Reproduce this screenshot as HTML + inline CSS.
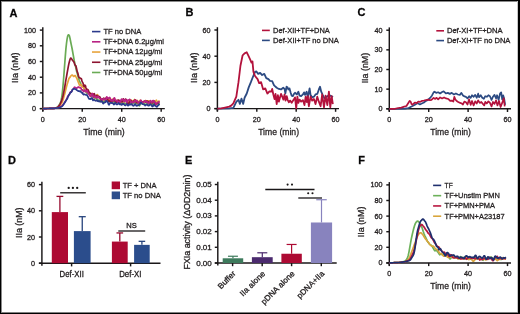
<!DOCTYPE html>
<html><head><meta charset="utf-8"><style>
html,body{margin:0;padding:0;background:#fff;}
body{width:520px;height:314px;overflow:hidden;position:relative;}
.frame{position:absolute;left:0;top:0;width:517px;height:311px;border:1px solid #000;border-right-width:2px;border-bottom-width:2px;}
svg{position:absolute;left:0;top:0;}
text{font-family:"Liberation Sans", sans-serif;stroke:#231f20;stroke-width:0.3px;}
svg{will-change:transform;}
</style></head><body>
<svg width="520" height="314" viewBox="0 0 520 314">
<rect x="0" y="0" width="520" height="314" fill="#fff"/>
<text x="9.60" y="16.60" font-size="11" text-anchor="start" font-weight="bold" fill="#000" >A</text>
<line x1="42.80" y1="27.30" x2="42.80" y2="111.20" stroke="#1a1718" stroke-width="1.45"/>
<line x1="39.80" y1="108.60" x2="42.80" y2="108.60" stroke="#1a1718" stroke-width="1.45"/>
<text x="36.00" y="111.15" font-size="7.2" text-anchor="end" fill="#231f20" >0</text>
<line x1="39.80" y1="92.90" x2="42.80" y2="92.90" stroke="#1a1718" stroke-width="1.45"/>
<text x="36.00" y="95.45" font-size="7.2" text-anchor="end" fill="#231f20" >20</text>
<line x1="39.80" y1="77.20" x2="42.80" y2="77.20" stroke="#1a1718" stroke-width="1.45"/>
<text x="36.00" y="79.75" font-size="7.2" text-anchor="end" fill="#231f20" >40</text>
<line x1="39.80" y1="61.50" x2="42.80" y2="61.50" stroke="#1a1718" stroke-width="1.45"/>
<text x="36.00" y="64.05" font-size="7.2" text-anchor="end" fill="#231f20" >60</text>
<line x1="39.80" y1="45.80" x2="42.80" y2="45.80" stroke="#1a1718" stroke-width="1.45"/>
<text x="36.00" y="48.35" font-size="7.2" text-anchor="end" fill="#231f20" >80</text>
<line x1="39.80" y1="30.10" x2="42.80" y2="30.10" stroke="#1a1718" stroke-width="1.45"/>
<text x="36.00" y="32.65" font-size="7.2" text-anchor="end" fill="#231f20" >100</text>
<line x1="39.80" y1="108.60" x2="164.80" y2="108.60" stroke="#1a1718" stroke-width="1.45"/>
<line x1="42.80" y1="108.60" x2="42.80" y2="111.80" stroke="#1a1718" stroke-width="1.45"/>
<text x="42.80" y="121.80" font-size="7.2" text-anchor="middle" fill="#231f20" >0</text>
<line x1="82.26" y1="108.60" x2="82.26" y2="111.80" stroke="#1a1718" stroke-width="1.45"/>
<text x="82.26" y="121.80" font-size="7.2" text-anchor="middle" fill="#231f20" >20</text>
<line x1="121.72" y1="108.60" x2="121.72" y2="111.80" stroke="#1a1718" stroke-width="1.45"/>
<text x="121.72" y="121.80" font-size="7.2" text-anchor="middle" fill="#231f20" >40</text>
<line x1="161.18" y1="108.60" x2="161.18" y2="111.80" stroke="#1a1718" stroke-width="1.45"/>
<text x="161.18" y="121.80" font-size="7.2" text-anchor="middle" fill="#231f20" >60</text>
<text transform="translate(18.10,67.70) rotate(-90)" x="0" y="0" font-size="9.2" text-anchor="middle" textLength="30.5" lengthAdjust="spacingAndGlyphs" fill="#231f20">IIa (nM)</text>
<text x="104.00" y="134.80" font-size="9.5" text-anchor="middle" textLength="41.50" lengthAdjust="spacingAndGlyphs" fill="#231f20" >Time (min)</text>
<path d="M42.80,108.59 L43.39,108.58 L43.98,108.56 L44.58,108.55 L45.17,108.53 L45.76,108.51 L46.35,108.49 L46.94,108.47 L47.54,108.46 L48.13,108.44 L48.72,108.42 L49.31,108.40 L49.90,108.38 L50.49,108.36 L51.09,108.35 L51.68,108.33 L52.27,108.31 L52.86,108.29 L53.45,108.27 L54.05,108.26 L54.64,108.21 L55.23,108.09 L55.82,107.90 L56.41,107.63 L57.01,107.29 L57.60,106.85 L58.19,106.27 L58.78,105.54 L59.37,104.64 L59.97,103.65 L60.56,102.38 L61.15,100.26 L61.74,97.23 L62.33,92.86 L62.92,86.87 L63.52,79.71 L64.11,72.07 L64.70,64.22 L65.29,56.41 L65.88,49.11 L66.48,43.51 L67.07,39.14 L67.66,36.06 L68.25,34.79 L68.84,34.80 L69.44,35.85 L70.03,38.51 L70.62,41.46 L71.21,44.32 L71.80,47.12 L72.39,50.26 L72.99,53.63 L73.58,56.91 L74.17,60.42 L74.76,63.15 L75.35,65.51 L75.95,68.37 L76.54,70.95 L77.13,73.07 L77.72,75.06 L78.31,77.35 L78.91,79.63 L79.50,81.17 L80.09,82.23 L80.68,83.58 L81.27,85.41 L81.87,86.19 L82.46,86.21 L83.05,86.55 L83.64,87.21 L84.23,89.46 L84.82,91.34 L85.42,91.11 L86.01,91.41 L86.60,92.79 L87.19,93.70 L87.78,93.66 L88.38,93.50 L88.97,93.96 L89.56,94.50 L90.15,94.88 L90.74,95.75 L91.34,96.59 L91.93,96.56 L92.52,96.09 L93.11,96.10 L93.70,97.26 L94.30,98.01 L94.89,97.51 L95.48,97.75 L96.07,98.97 L96.66,99.19 L97.25,99.02 L97.85,99.97 L98.44,100.28 L99.03,100.14 L99.62,100.63 L100.21,100.61 L100.81,100.52 L101.40,101.26 L101.99,101.95 L102.58,101.83 L103.17,101.16 L103.77,100.99 L104.36,101.18 L104.95,101.08 L105.54,101.12 L106.13,100.40 L106.73,99.67 L107.32,100.36 L107.91,100.93 L108.50,100.53 L109.09,100.53 L109.68,101.24 L110.28,101.87 L110.87,102.13 L111.46,101.44 L112.05,100.59 L112.64,100.97 L113.24,101.79 L113.83,102.13 L114.42,102.16 L115.01,102.43 L115.60,102.66 L116.20,102.54 L116.79,102.51 L117.38,102.45 L117.97,102.62 L118.56,102.73 L119.16,102.27 L119.75,102.86 L120.34,104.02 L120.93,103.58 L121.52,102.92 L122.11,102.56 L122.71,102.12 L123.30,102.50 L123.89,103.21 L124.48,103.18 L125.07,103.15 L125.67,103.66 L126.26,103.67 L126.85,103.44 L127.44,103.41 L128.03,103.56 L128.63,104.03 L129.22,103.98 L129.81,103.61 L130.40,103.15 L130.99,102.45 L131.59,102.84 L132.18,103.50 L132.77,103.24 L133.36,103.10 L133.95,102.72 L134.54,102.07 L135.14,102.58 L135.73,103.38 L136.32,103.39 L136.91,103.13 L137.50,102.91 L138.10,103.54 L138.69,105.22 L139.28,105.93 L139.87,104.98 L140.46,104.31 L141.06,103.54 L141.65,102.49 L142.24,102.61 L142.83,103.28 L143.42,103.64 L144.01,103.60 L144.61,104.12 L145.20,104.68 L145.79,104.21 L146.38,104.01 L146.97,103.83 L147.57,103.12 L148.16,103.64 L148.75,105.16 L149.34,105.23 L149.93,103.71 L150.53,102.85 L151.12,103.37 L151.71,104.29 L152.30,104.31 L152.89,103.76 L153.49,103.80 L154.08,103.67 L154.67,103.07 L155.26,103.17 L155.85,103.94 L156.44,104.02 L157.04,103.87 L157.63,103.81 L158.22,103.74 L158.81,104.01 L159.40,103.74" fill="none" stroke="#6aab55" stroke-width="1.7" stroke-linejoin="round"/>
<path d="M42.80,108.59 L43.39,108.59 L43.98,108.58 L44.58,108.56 L45.17,108.55 L45.76,108.54 L46.35,108.53 L46.94,108.52 L47.54,108.51 L48.13,108.49 L48.72,108.48 L49.31,108.47 L49.90,108.46 L50.49,108.45 L51.09,108.44 L51.68,108.42 L52.27,108.41 L52.86,108.40 L53.45,108.39 L54.05,108.34 L54.64,108.25 L55.23,108.13 L55.82,107.96 L56.41,107.76 L57.01,107.56 L57.60,107.33 L58.19,106.99 L58.78,106.56 L59.37,106.01 L59.97,105.41 L60.56,104.63 L61.15,103.81 L61.74,103.03 L62.33,101.87 L62.92,100.16 L63.52,98.15 L64.11,96.06 L64.70,94.03 L65.29,91.66 L65.88,89.18 L66.48,86.82 L67.07,84.60 L67.66,82.83 L68.25,80.84 L68.84,78.78 L69.44,77.82 L70.03,77.19 L70.62,76.22 L71.21,75.55 L71.80,75.05 L72.39,75.13 L72.99,75.77 L73.58,76.38 L74.17,76.35 L74.76,75.57 L75.35,75.59 L75.95,76.90 L76.54,77.93 L77.13,79.09 L77.72,80.75 L78.31,82.17 L78.91,83.71 L79.50,85.24 L80.09,85.30 L80.68,84.57 L81.27,84.87 L81.87,86.27 L82.46,87.08 L83.05,86.42 L83.64,86.72 L84.23,89.08 L84.82,90.62 L85.42,90.47 L86.01,90.62 L86.60,91.27 L87.19,91.66 L87.78,91.94 L88.38,92.10 L88.97,92.70 L89.56,93.02 L90.15,93.24 L90.74,94.53 L91.34,94.75 L91.93,93.71 L92.52,93.60 L93.11,95.25 L93.70,96.47 L94.30,95.49 L94.89,95.14 L95.48,96.71 L96.07,97.40 L96.66,95.69 L97.25,94.58 L97.85,95.11 L98.44,95.98 L99.03,97.14 L99.62,97.83 L100.21,98.59 L100.81,99.23 L101.40,99.22 L101.99,99.47 L102.58,99.71 L103.17,99.62 L103.77,99.37 L104.36,99.03 L104.95,99.27 L105.54,99.65 L106.13,99.87 L106.73,100.28 L107.32,99.69 L107.91,99.95 L108.50,101.16 L109.09,100.02 L109.68,98.38 L110.28,98.78 L110.87,99.90 L111.46,100.05 L112.05,99.52 L112.64,99.09 L113.24,98.95 L113.83,98.99 L114.42,98.92 L115.01,99.56 L115.60,100.90 L116.20,101.45 L116.79,100.84 L117.38,100.47 L117.97,100.48 L118.56,100.63 L119.16,101.45 L119.75,101.75 L120.34,101.33 L120.93,100.72 L121.52,100.52 L122.11,101.32 L122.71,102.21 L123.30,102.29 L123.89,101.29 L124.48,100.52 L125.07,100.73 L125.67,100.30 L126.26,100.22 L126.85,101.39 L127.44,102.56 L128.03,103.09 L128.63,101.84 L129.22,100.87 L129.81,101.26 L130.40,100.70 L130.99,99.98 L131.59,100.50 L132.18,101.08 L132.77,101.24 L133.36,101.63 L133.95,100.63 L134.54,99.40 L135.14,100.73 L135.73,101.75 L136.32,101.08 L136.91,100.44 L137.50,100.63 L138.10,101.84 L138.69,102.71 L139.28,102.05 L139.87,100.44 L140.46,100.22 L141.06,101.54 L141.65,101.91 L142.24,101.80 L142.83,102.20 L143.42,101.61 L144.01,101.13 L144.61,101.69 L145.20,100.92 L145.79,100.53 L146.38,101.19 L146.97,100.78 L147.57,101.02 L148.16,101.36 L148.75,100.75 L149.34,100.97 L149.93,101.73 L150.53,102.28 L151.12,102.54 L151.71,102.28 L152.30,101.48 L152.89,100.93 L153.49,101.15 L154.08,101.42 L154.67,101.41 L155.26,101.21 L155.85,100.74 L156.44,100.27 L157.04,101.40 L157.63,102.84 L158.22,102.49 L158.81,101.51 L159.40,100.45" fill="none" stroke="#e7a43c" stroke-width="1.7" stroke-linejoin="round"/>
<path d="M42.80,108.59 L43.39,108.59 L43.98,108.58 L44.58,108.56 L45.17,108.55 L45.76,108.54 L46.35,108.53 L46.94,108.52 L47.54,108.51 L48.13,108.49 L48.72,108.48 L49.31,108.47 L49.90,108.46 L50.49,108.45 L51.09,108.44 L51.68,108.42 L52.27,108.41 L52.86,108.40 L53.45,108.39 L54.05,108.34 L54.64,108.25 L55.23,108.13 L55.82,107.96 L56.41,107.76 L57.01,107.56 L57.60,107.30 L58.19,106.84 L58.78,106.17 L59.37,105.32 L59.97,104.31 L60.56,103.20 L61.15,101.95 L61.74,100.38 L62.33,98.60 L62.92,96.33 L63.52,93.48 L64.11,90.39 L64.70,87.22 L65.29,83.76 L65.88,80.23 L66.48,76.82 L67.07,73.38 L67.66,70.05 L68.25,66.89 L68.84,63.88 L69.44,61.55 L70.03,59.40 L70.62,58.13 L71.21,58.25 L71.80,59.12 L72.39,60.18 L72.99,60.91 L73.58,61.41 L74.17,62.60 L74.76,64.56 L75.35,65.47 L75.95,65.91 L76.54,68.49 L77.13,71.30 L77.72,72.78 L78.31,75.21 L78.91,77.27 L79.50,77.62 L80.09,78.22 L80.68,78.42 L81.27,78.51 L81.87,80.57 L82.46,82.09 L83.05,83.08 L83.64,85.77 L84.23,86.57 L84.82,85.17 L85.42,85.71 L86.01,88.08 L86.60,89.45 L87.19,89.41 L87.78,89.59 L88.38,90.49 L88.97,91.91 L89.56,93.10 L90.15,93.37 L90.74,93.41 L91.34,93.88 L91.93,94.32 L92.52,95.06 L93.11,95.43 L93.70,94.05 L94.30,93.66 L94.89,95.64 L95.48,96.64 L96.07,95.76 L96.66,95.46 L97.25,95.75 L97.85,95.99 L98.44,97.25 L99.03,97.53 L99.62,96.73 L100.21,97.54 L100.81,99.33 L101.40,100.28 L101.99,99.79 L102.58,99.13 L103.17,98.58 L103.77,98.05 L104.36,98.79 L104.95,99.26 L105.54,98.38 L106.13,98.04 L106.73,98.50 L107.32,98.95 L107.91,99.76 L108.50,101.04 L109.09,101.50 L109.68,100.96 L110.28,100.35 L110.87,101.15 L111.46,102.64 L112.05,102.05 L112.64,100.45 L113.24,99.75 L113.83,100.41 L114.42,100.91 L115.01,100.35 L115.60,100.86 L116.20,102.48 L116.79,102.21 L117.38,100.59 L117.97,100.30 L118.56,100.15 L119.16,100.38 L119.75,101.70 L120.34,101.94 L120.93,101.50 L121.52,101.57 L122.11,101.70 L122.71,100.36 L123.30,98.84 L123.89,99.67 L124.48,100.22 L125.07,99.61 L125.67,99.18 L126.26,99.58 L126.85,101.56 L127.44,103.41 L128.03,103.85 L128.63,103.75 L129.22,102.68 L129.81,100.81 L130.40,100.37 L130.99,100.76 L131.59,100.97 L132.18,101.39 L132.77,102.21 L133.36,102.10 L133.95,100.90 L134.54,100.33 L135.14,99.79 L135.73,100.68 L136.32,102.49 L136.91,102.57 L137.50,102.28 L138.10,102.47 L138.69,102.38 L139.28,102.22 L139.87,102.55 L140.46,102.56 L141.06,101.95 L141.65,101.90 L142.24,102.01 L142.83,101.83 L143.42,101.82 L144.01,101.66 L144.61,101.17 L145.20,101.63 L145.79,102.16 L146.38,101.35 L146.97,101.00 L147.57,101.31 L148.16,101.99 L148.75,102.16 L149.34,101.84 L149.93,102.38 L150.53,102.74 L151.12,101.81 L151.71,101.63 L152.30,102.99 L152.89,102.31 L153.49,101.06 L154.08,101.11 L154.67,101.91 L155.26,104.04 L155.85,104.58 L156.44,103.63 L157.04,103.53 L157.63,103.01 L158.22,102.58 L158.81,102.90 L159.40,102.43" fill="none" stroke="#8e1430" stroke-width="1.7" stroke-linejoin="round"/>
<path d="M42.80,108.59 L43.39,108.59 L43.98,108.58 L44.58,108.56 L45.17,108.55 L45.76,108.54 L46.35,108.53 L46.94,108.52 L47.54,108.51 L48.13,108.49 L48.72,108.48 L49.31,108.47 L49.90,108.46 L50.49,108.45 L51.09,108.44 L51.68,108.42 L52.27,108.41 L52.86,108.40 L53.45,108.39 L54.05,108.36 L54.64,108.32 L55.23,108.27 L55.82,108.20 L56.41,108.12 L57.01,108.03 L57.60,107.93 L58.19,107.78 L58.78,107.60 L59.37,107.41 L59.97,107.09 L60.56,106.70 L61.15,106.30 L61.74,105.85 L62.33,105.36 L62.92,104.70 L63.52,103.95 L64.11,103.21 L64.70,102.27 L65.29,101.23 L65.88,100.35 L66.48,99.39 L67.07,98.01 L67.66,96.58 L68.25,95.71 L68.84,95.12 L69.44,94.23 L70.03,92.67 L70.62,91.84 L71.21,92.15 L71.80,91.09 L72.39,89.58 L72.99,89.30 L73.58,88.87 L74.17,87.51 L74.76,87.17 L75.35,87.78 L75.95,88.01 L76.54,88.11 L77.13,87.89 L77.72,87.40 L78.31,86.97 L78.91,87.28 L79.50,87.70 L80.09,87.53 L80.68,87.69 L81.27,89.01 L81.87,89.90 L82.46,89.76 L83.05,90.84 L83.64,91.61 L84.23,90.85 L84.82,89.89 L85.42,90.54 L86.01,91.82 L86.60,90.70 L87.19,90.45 L87.78,92.44 L88.38,93.64 L88.97,94.22 L89.56,95.06 L90.15,96.16 L90.74,96.41 L91.34,95.31 L91.93,93.79 L92.52,93.67 L93.11,96.15 L93.70,97.58 L94.30,96.58 L94.89,95.99 L95.48,96.09 L96.07,96.98 L96.66,98.04 L97.25,97.48 L97.85,96.36 L98.44,96.93 L99.03,97.67 L99.62,97.83 L100.21,98.88 L100.81,98.99 L101.40,98.82 L101.99,99.96 L102.58,100.09 L103.17,99.09 L103.77,98.78 L104.36,99.19 L104.95,99.85 L105.54,100.40 L106.13,98.72 L106.73,96.88 L107.32,97.56 L107.91,98.30 L108.50,98.42 L109.09,97.74 L109.68,97.40 L110.28,98.72 L110.87,100.44 L111.46,100.61 L112.05,99.92 L112.64,100.96 L113.24,100.77 L113.83,98.36 L114.42,97.86 L115.01,99.37 L115.60,100.52 L116.20,100.64 L116.79,100.36 L117.38,101.19 L117.97,102.23 L118.56,101.63 L119.16,101.28 L119.75,102.28 L120.34,102.14 L120.93,100.22 L121.52,99.03 L122.11,99.80 L122.71,99.78 L123.30,99.49 L123.89,101.21 L124.48,101.57 L125.07,99.89 L125.67,99.26 L126.26,101.13 L126.85,102.70 L127.44,101.08 L128.03,99.91 L128.63,100.24 L129.22,99.62 L129.81,99.29 L130.40,100.66 L130.99,102.61 L131.59,103.03 L132.18,102.07 L132.77,101.85 L133.36,102.35 L133.95,102.17 L134.54,100.94 L135.14,100.01 L135.73,100.81 L136.32,101.46 L136.91,100.60 L137.50,101.51 L138.10,102.96 L138.69,102.63 L139.28,103.24 L139.87,102.62 L140.46,100.37 L141.06,100.34 L141.65,101.85 L142.24,102.12 L142.83,102.09 L143.42,102.50 L144.01,101.78 L144.61,100.94 L145.20,100.73 L145.79,101.51 L146.38,102.22 L146.97,101.74 L147.57,102.16 L148.16,103.31 L148.75,103.51 L149.34,102.76 L149.93,101.38 L150.53,100.59 L151.12,101.57 L151.71,102.67 L152.30,102.02 L152.89,100.51 L153.49,100.54 L154.08,101.64 L154.67,101.77 L155.26,102.67 L155.85,104.26 L156.44,103.95 L157.04,102.84 L157.63,102.41 L158.22,102.38 L158.81,102.07 L159.40,101.26" fill="none" stroke="#b82284" stroke-width="1.7" stroke-linejoin="round"/>
<path d="M42.80,108.59 L43.39,108.59 L43.98,108.58 L44.58,108.56 L45.17,108.55 L45.76,108.54 L46.35,108.53 L46.94,108.52 L47.54,108.51 L48.13,108.49 L48.72,108.48 L49.31,108.47 L49.90,108.46 L50.49,108.45 L51.09,108.44 L51.68,108.42 L52.27,108.41 L52.86,108.40 L53.45,108.39 L54.05,108.36 L54.64,108.32 L55.23,108.27 L55.82,108.20 L56.41,108.12 L57.01,108.03 L57.60,107.94 L58.19,107.82 L58.78,107.67 L59.37,107.50 L59.97,107.29 L60.56,107.07 L61.15,106.84 L61.74,106.52 L62.33,106.04 L62.92,105.39 L63.52,104.59 L64.11,103.58 L64.70,102.66 L65.29,101.88 L65.88,100.78 L66.48,99.87 L67.07,99.06 L67.66,97.79 L68.25,96.29 L68.84,95.10 L69.44,94.24 L70.03,93.17 L70.62,92.39 L71.21,92.15 L71.80,91.35 L72.39,90.02 L72.99,89.13 L73.58,88.75 L74.17,88.77 L74.76,89.00 L75.35,89.08 L75.95,89.30 L76.54,90.06 L77.13,90.35 L77.72,90.69 L78.31,91.12 L78.91,90.97 L79.50,91.44 L80.09,91.34 L80.68,91.06 L81.27,92.46 L81.87,92.97 L82.46,92.83 L83.05,94.06 L83.64,94.62 L84.23,94.27 L84.82,94.40 L85.42,94.81 L86.01,95.00 L86.60,94.92 L87.19,95.30 L87.78,96.40 L88.38,97.66 L88.97,98.78 L89.56,99.04 L90.15,98.88 L90.74,99.11 L91.34,98.18 L91.93,97.90 L92.52,99.57 L93.11,100.41 L93.70,99.94 L94.30,99.77 L94.89,100.39 L95.48,100.77 L96.07,100.89 L96.66,100.54 L97.25,100.38 L97.85,101.18 L98.44,101.37 L99.03,100.91 L99.62,101.33 L100.21,101.93 L100.81,101.49 L101.40,101.19 L101.99,101.52 L102.58,102.56 L103.17,103.69 L103.77,103.20 L104.36,102.25 L104.95,102.38 L105.54,102.16 L106.13,100.93 L106.73,100.85 L107.32,101.60 L107.91,102.38 L108.50,104.38 L109.09,104.81 L109.68,103.36 L110.28,102.94 L110.87,102.85 L111.46,102.88 L112.05,103.11 L112.64,103.04 L113.24,103.75 L113.83,104.52 L114.42,104.00 L115.01,102.98 L115.60,102.95 L116.20,104.04 L116.79,104.47 L117.38,104.35 L117.97,103.78 L118.56,103.00 L119.16,103.59 L119.75,104.43 L120.34,104.16 L120.93,104.19 L121.52,104.96 L122.11,104.50 L122.71,103.31 L123.30,103.48 L123.89,104.45 L124.48,104.94 L125.07,105.34 L125.67,105.34 L126.26,104.36 L126.85,104.00 L127.44,104.82 L128.03,105.66 L128.63,105.35 L129.22,104.43 L129.81,104.45 L130.40,104.72 L130.99,104.16 L131.59,104.09 L132.18,104.98 L132.77,105.54 L133.36,105.83 L133.95,105.49 L134.54,104.38 L135.14,103.98 L135.73,104.71 L136.32,105.75 L136.91,105.85 L137.50,105.27 L138.10,105.01 L138.69,105.05 L139.28,104.97 L139.87,103.96 L140.46,102.82 L141.06,102.59 L141.65,103.16 L142.24,103.90 L142.83,104.29 L143.42,104.45 L144.01,104.46 L144.61,104.95 L145.20,105.52 L145.79,105.22 L146.38,104.51 L146.97,104.38 L147.57,105.05 L148.16,105.55 L148.75,105.68 L149.34,105.33 L149.93,104.44 L150.53,104.44 L151.12,104.88 L151.71,105.48 L152.30,106.53 L152.89,106.44 L153.49,104.94 L154.08,104.34 L154.67,105.47 L155.26,105.87 L155.85,105.85 L156.44,106.76 L157.04,106.90 L157.63,105.90 L158.22,105.33 L158.81,104.79 L159.40,103.59" fill="none" stroke="#2b3a8c" stroke-width="1.7" stroke-linejoin="round"/>
<line x1="92.00" y1="31.60" x2="100.40" y2="31.60" stroke="#2b3a8c" stroke-width="1.6"/>
<text x="103.50" y="34.00" font-size="8" text-anchor="start" textLength="37.70" lengthAdjust="spacingAndGlyphs" fill="#231f20" >TF no DNA</text>
<line x1="92.00" y1="41.82" x2="100.40" y2="41.82" stroke="#b82284" stroke-width="1.6"/>
<text x="103.50" y="44.22" font-size="8" text-anchor="start" textLength="60.50" lengthAdjust="spacingAndGlyphs" fill="#231f20" >TF+DNA 6.2&#956;g/ml</text>
<line x1="92.00" y1="52.04" x2="100.40" y2="52.04" stroke="#e7a43c" stroke-width="1.6"/>
<text x="103.50" y="54.44" font-size="8" text-anchor="start" textLength="58.80" lengthAdjust="spacingAndGlyphs" fill="#231f20" >TF+DNA 12&#956;g/ml</text>
<line x1="92.00" y1="62.26" x2="100.40" y2="62.26" stroke="#8e1430" stroke-width="1.6"/>
<text x="103.50" y="64.66" font-size="8" text-anchor="start" textLength="58.80" lengthAdjust="spacingAndGlyphs" fill="#231f20" >TF+DNA 25&#956;g/ml</text>
<line x1="92.00" y1="72.48" x2="100.40" y2="72.48" stroke="#6aab55" stroke-width="1.6"/>
<text x="103.50" y="74.88" font-size="8" text-anchor="start" textLength="58.80" lengthAdjust="spacingAndGlyphs" fill="#231f20" >TF+DNA 50&#956;g/ml</text>
<text x="185.40" y="16.40" font-size="11" text-anchor="start" font-weight="bold" fill="#000" >B</text>
<line x1="217.40" y1="27.20" x2="217.40" y2="111.20" stroke="#1a1718" stroke-width="1.45"/>
<line x1="214.40" y1="108.60" x2="217.40" y2="108.60" stroke="#1a1718" stroke-width="1.45"/>
<text x="210.60" y="111.15" font-size="7.2" text-anchor="end" fill="#231f20" >0</text>
<line x1="214.40" y1="82.40" x2="217.40" y2="82.40" stroke="#1a1718" stroke-width="1.45"/>
<text x="210.60" y="84.95" font-size="7.2" text-anchor="end" fill="#231f20" >20</text>
<line x1="214.40" y1="56.20" x2="217.40" y2="56.20" stroke="#1a1718" stroke-width="1.45"/>
<text x="210.60" y="58.75" font-size="7.2" text-anchor="end" fill="#231f20" >40</text>
<line x1="214.40" y1="30.00" x2="217.40" y2="30.00" stroke="#1a1718" stroke-width="1.45"/>
<text x="210.60" y="32.55" font-size="7.2" text-anchor="end" fill="#231f20" >60</text>
<line x1="214.40" y1="108.60" x2="339.00" y2="108.60" stroke="#1a1718" stroke-width="1.45"/>
<line x1="217.40" y1="108.60" x2="217.40" y2="111.80" stroke="#1a1718" stroke-width="1.45"/>
<text x="217.40" y="121.80" font-size="7.2" text-anchor="middle" fill="#231f20" >0</text>
<line x1="256.80" y1="108.60" x2="256.80" y2="111.80" stroke="#1a1718" stroke-width="1.45"/>
<text x="256.80" y="121.80" font-size="7.2" text-anchor="middle" fill="#231f20" >20</text>
<line x1="296.20" y1="108.60" x2="296.20" y2="111.80" stroke="#1a1718" stroke-width="1.45"/>
<text x="296.20" y="121.80" font-size="7.2" text-anchor="middle" fill="#231f20" >40</text>
<line x1="335.60" y1="108.60" x2="335.60" y2="111.80" stroke="#1a1718" stroke-width="1.45"/>
<text x="335.60" y="121.80" font-size="7.2" text-anchor="middle" fill="#231f20" >60</text>
<text transform="translate(196.80,67.70) rotate(-90)" x="0" y="0" font-size="9.2" text-anchor="middle" textLength="30.5" lengthAdjust="spacingAndGlyphs" fill="#231f20">IIa (nM)</text>
<text x="278.60" y="134.80" font-size="9.5" text-anchor="middle" textLength="40.90" lengthAdjust="spacingAndGlyphs" fill="#231f20" >Time (min)</text>
<path d="M217.40,108.60 L229.22,108.47 L233.36,107.94 L236.31,101.79 L238.48,99.82 L239.86,103.88 L241.43,98.64 L243.21,103.88 L244.59,97.73 L246.75,93.53 L248.72,87.38 L250.89,82.14 L252.86,77.03 L255.03,71.92 L256.41,71.40 L258.18,73.88 L260.15,72.84 L262.12,75.06 L264.29,73.88 L266.26,78.08 L268.42,79.12 L270.00,80.83 L272.17,81.09 L273.94,85.02 L274.92,86.07 L276.70,87.77 L278.86,88.95 L281.03,89.47 L283.20,87.77 L284.58,88.95 L285.37,93.40 L286.55,86.72 L287.53,87.25 L288.32,89.47 L289.50,88.43 L290.68,92.75 L291.67,95.63 L292.85,96.16 L294.03,93.93 L295.02,92.75 L296.79,94.45 L298.37,91.70 L299.55,95.63 L301.12,96.16 L302.90,94.45 L304.08,92.36 L305.06,94.84 L306.64,91.70 L307.82,97.33 L309.60,88.43 L310.58,95.11 L312.16,97.33 L313.93,96.68 L315.51,94.45 L317.28,93.93 L318.86,89.47 L320.04,86.72 L321.22,91.70 L322.80,95.11 L324.57,98.38 L327.33,96.16 L330.08,95.50 L333.04,96.94" fill="none" stroke="#2c4a82" stroke-width="1.8" stroke-linejoin="round"/>
<path d="M217.40,108.60 L221.34,108.47 L225.08,107.55 L229.22,106.63 L231.19,105.59 L233.36,103.36 L236.31,96.68 L238.48,82.14 L240.45,65.76 L242.62,55.28 L244.59,53.32 L246.75,52.27 L248.72,56.46 L250.10,59.47 L251.48,62.62 L252.47,61.44 L253.45,71.92 L255.03,75.98 L257.59,79.12 L259.16,83.19 L261.13,82.14 L263.10,89.34 L265.27,88.43 L267.44,93.53 L269.41,91.44 L271.18,91.70 L272.17,88.95 L273.35,94.45 L274.53,99.04 L275.51,93.93 L276.70,104.02 L277.88,95.11 L278.86,101.66 L280.05,97.33 L281.03,93.93 L282.21,96.68 L283.39,99.56 L284.58,94.45 L285.56,100.61 L286.74,96.16 L287.73,100.08 L288.91,102.31 L290.09,100.61 L291.67,102.84 L293.44,100.08 L295.02,97.33 L296.20,108.34 L297.38,96.68 L298.37,102.84 L299.55,99.56 L301.12,101.66 L302.90,100.08 L304.47,105.06 L305.66,96.68 L306.84,102.05 L307.82,96.16 L308.81,106.24 L310.58,96.68 L312.16,100.61 L313.93,99.04 L315.51,104.02 L317.28,96.68 L318.86,101.66 L320.63,106.24 L322.20,94.45 L323.98,107.29 L325.55,95.63 L327.33,105.06 L328.90,91.70 L330.28,107.29 L331.66,96.16 L332.84,104.02" fill="none" stroke="#b3123c" stroke-width="1.8" stroke-linejoin="round"/>
<line x1="262.00" y1="30.40" x2="269.80" y2="30.40" stroke="#b3123c" stroke-width="1.6"/>
<text x="273.10" y="32.80" font-size="8" text-anchor="start" textLength="56.70" lengthAdjust="spacingAndGlyphs" fill="#231f20" >Def-XII+TF+DNA</text>
<line x1="262.00" y1="40.40" x2="269.80" y2="40.40" stroke="#2c4a82" stroke-width="1.6"/>
<text x="273.10" y="42.80" font-size="8" text-anchor="start" textLength="65.70" lengthAdjust="spacingAndGlyphs" fill="#231f20" >Def-XII+TF no DNA</text>
<text x="357.60" y="16.40" font-size="11" text-anchor="start" font-weight="bold" fill="#000" >C</text>
<line x1="389.30" y1="27.40" x2="389.30" y2="111.40" stroke="#1a1718" stroke-width="1.45"/>
<line x1="386.30" y1="108.80" x2="389.30" y2="108.80" stroke="#1a1718" stroke-width="1.45"/>
<text x="382.50" y="111.35" font-size="7.2" text-anchor="end" fill="#231f20" >0</text>
<line x1="386.30" y1="89.15" x2="389.30" y2="89.15" stroke="#1a1718" stroke-width="1.45"/>
<text x="382.50" y="91.70" font-size="7.2" text-anchor="end" fill="#231f20" >10</text>
<line x1="386.30" y1="69.50" x2="389.30" y2="69.50" stroke="#1a1718" stroke-width="1.45"/>
<text x="382.50" y="72.05" font-size="7.2" text-anchor="end" fill="#231f20" >20</text>
<line x1="386.30" y1="49.85" x2="389.30" y2="49.85" stroke="#1a1718" stroke-width="1.45"/>
<text x="382.50" y="52.40" font-size="7.2" text-anchor="end" fill="#231f20" >30</text>
<line x1="386.30" y1="30.20" x2="389.30" y2="30.20" stroke="#1a1718" stroke-width="1.45"/>
<text x="382.50" y="32.75" font-size="7.2" text-anchor="end" fill="#231f20" >40</text>
<line x1="386.30" y1="108.80" x2="511.00" y2="108.80" stroke="#1a1718" stroke-width="1.45"/>
<line x1="389.30" y1="108.80" x2="389.30" y2="112.00" stroke="#1a1718" stroke-width="1.45"/>
<text x="389.30" y="122.00" font-size="7.2" text-anchor="middle" fill="#231f20" >0</text>
<line x1="428.70" y1="108.80" x2="428.70" y2="112.00" stroke="#1a1718" stroke-width="1.45"/>
<text x="428.70" y="122.00" font-size="7.2" text-anchor="middle" fill="#231f20" >20</text>
<line x1="468.10" y1="108.80" x2="468.10" y2="112.00" stroke="#1a1718" stroke-width="1.45"/>
<text x="468.10" y="122.00" font-size="7.2" text-anchor="middle" fill="#231f20" >40</text>
<line x1="507.50" y1="108.80" x2="507.50" y2="112.00" stroke="#1a1718" stroke-width="1.45"/>
<text x="507.50" y="122.00" font-size="7.2" text-anchor="middle" fill="#231f20" >60</text>
<text transform="translate(368.20,68.10) rotate(-90)" x="0" y="0" font-size="9.2" text-anchor="middle" textLength="30.5" lengthAdjust="spacingAndGlyphs" fill="#231f20">IIa (nM)</text>
<text x="450.60" y="134.80" font-size="9.5" text-anchor="middle" textLength="40.80" lengthAdjust="spacingAndGlyphs" fill="#231f20" >Time (min)</text>
<path d="M389.30,108.80 L405.06,108.60 L408.61,108.01 L411.56,106.44 L414.52,105.07 L417.67,103.10 L419.84,104.48 L421.81,103.49 L423.97,102.51 L425.94,100.94 L427.91,99.96 L430.08,97.99 L432.05,95.44 L433.62,92.29 L434.61,91.70 L436.19,92.88 L438.16,92.29 L440.13,93.47 L441.70,92.29 L443.67,91.31 L445.84,93.47 L447.81,92.88 L449.78,93.87 L451.75,92.88 L453.92,94.46 L455.89,93.47 L457.86,94.46 L459.83,94.85 L461.40,92.88 L462.98,95.44 L464.55,96.42 L465.93,96.81 L467.51,98.39 L469.09,96.22 L470.66,97.80 L472.04,95.24 L473.62,96.81 L475.19,94.85 L476.77,97.80 L478.15,93.67 L479.13,97.21 L480.71,95.24 L482.28,97.80 L483.86,98.78 L485.24,96.22 L486.81,96.81 L488.39,95.24 L489.97,96.22 L491.54,99.96 L492.92,96.81 L494.50,94.85 L496.07,98.39 L497.06,95.24 L498.63,99.96 L500.01,93.67 L501.20,92.29 L502.18,99.37 L503.17,95.24 L504.15,98.39 L505.14,104.87" fill="none" stroke="#2c4a82" stroke-width="1.7" stroke-linejoin="round"/>
<path d="M389.30,108.80 L395.01,108.80 L398.17,108.01 L401.32,107.62 L404.27,106.64 L406.44,106.05 L408.01,103.49 L409.59,100.94 L410.58,101.53 L411.56,104.08 L412.55,104.67 L413.73,103.49 L415.11,102.51 L416.68,103.10 L418.26,101.53 L419.84,101.92 L421.81,100.94 L423.97,100.55 L425.94,99.96 L427.91,99.56 L430.08,100.15 L431.46,99.96 L433.62,97.80 L435.00,98.97 L436.58,97.80 L438.16,99.37 L440.13,97.40 L442.10,98.39 L444.07,97.40 L446.04,98.39 L448.20,98.97 L450.17,100.94 L451.75,100.55 L453.33,101.53 L454.31,96.81 L455.30,99.37 L456.67,100.94 L458.25,101.92 L460.22,102.91 L461.80,103.49 L462.98,104.48 L464.36,101.53 L465.93,102.32 L467.51,104.48 L469.09,99.37 L470.66,104.87 L472.04,100.94 L473.62,105.46 L475.19,101.33 L476.77,103.49 L478.15,100.35 L479.72,102.91 L481.30,101.92 L482.88,103.89 L484.25,105.46 L485.24,101.92 L486.81,103.49 L488.39,101.33 L489.97,102.91 L491.54,106.44 L492.92,101.92 L494.50,103.89 L496.07,100.35 L497.45,105.46 L499.03,100.94 L500.61,107.03 L502.18,102.91 L503.76,98.39 L504.74,106.44" fill="none" stroke="#b3123c" stroke-width="1.7" stroke-linejoin="round"/>
<line x1="436.30" y1="30.80" x2="444.00" y2="30.80" stroke="#b3123c" stroke-width="1.6"/>
<text x="446.90" y="33.10" font-size="8" text-anchor="start" textLength="55.80" lengthAdjust="spacingAndGlyphs" fill="#231f20" >Def-XI+TF+DNA</text>
<line x1="436.30" y1="40.60" x2="444.00" y2="40.60" stroke="#2c4a82" stroke-width="1.6"/>
<text x="446.90" y="42.90" font-size="8" text-anchor="start" textLength="63.50" lengthAdjust="spacingAndGlyphs" fill="#231f20" >Def-XI+TF no DNA</text>
<text x="7.90" y="163.80" font-size="11" text-anchor="start" font-weight="bold" fill="#000" >D</text>
<line x1="41.90" y1="181.80" x2="41.90" y2="265.80" stroke="#1a1718" stroke-width="1.45"/>
<line x1="38.90" y1="263.20" x2="41.90" y2="263.20" stroke="#1a1718" stroke-width="1.45"/>
<text x="35.10" y="265.75" font-size="7.2" text-anchor="end" fill="#231f20" >0</text>
<line x1="38.90" y1="237.00" x2="41.90" y2="237.00" stroke="#1a1718" stroke-width="1.45"/>
<text x="35.10" y="239.55" font-size="7.2" text-anchor="end" fill="#231f20" >20</text>
<line x1="38.90" y1="210.80" x2="41.90" y2="210.80" stroke="#1a1718" stroke-width="1.45"/>
<text x="35.10" y="213.35" font-size="7.2" text-anchor="end" fill="#231f20" >40</text>
<line x1="38.90" y1="184.60" x2="41.90" y2="184.60" stroke="#1a1718" stroke-width="1.45"/>
<text x="35.10" y="187.15" font-size="7.2" text-anchor="end" fill="#231f20" >60</text>
<line x1="38.90" y1="263.20" x2="160.50" y2="263.20" stroke="#1a1718" stroke-width="1.45"/>
<line x1="71.60" y1="263.20" x2="71.60" y2="266.40" stroke="#1a1718" stroke-width="1.45"/>
<line x1="130.60" y1="263.20" x2="130.60" y2="266.40" stroke="#1a1718" stroke-width="1.45"/>
<text transform="translate(21.80,222.70) rotate(-90)" x="0" y="0" font-size="9.2" text-anchor="middle" textLength="30.5" lengthAdjust="spacingAndGlyphs" fill="#231f20">IIa (nM)</text>
<rect x="51.80" y="212.11" width="16.20" height="51.09" fill="#ad0a33"/>
<line x1="59.90" y1="212.11" x2="59.90" y2="196.39" stroke="#960a2e" stroke-width="1.3"/>
<line x1="56.50" y1="196.39" x2="63.30" y2="196.39" stroke="#960a2e" stroke-width="1.3"/>
<rect x="73.90" y="231.10" width="16.70" height="32.09" fill="#2b4d8c"/>
<line x1="82.25" y1="231.10" x2="82.25" y2="216.69" stroke="#26437c" stroke-width="1.3"/>
<line x1="78.74" y1="216.69" x2="85.76" y2="216.69" stroke="#26437c" stroke-width="1.3"/>
<rect x="111.90" y="241.58" width="15.80" height="21.62" fill="#ad0a33"/>
<line x1="119.80" y1="241.58" x2="119.80" y2="232.94" stroke="#960a2e" stroke-width="1.3"/>
<line x1="116.48" y1="232.94" x2="123.12" y2="232.94" stroke="#960a2e" stroke-width="1.3"/>
<rect x="134.10" y="244.86" width="15.60" height="18.34" fill="#2b4d8c"/>
<line x1="141.90" y1="244.86" x2="141.90" y2="241.32" stroke="#26437c" stroke-width="1.3"/>
<line x1="138.62" y1="241.32" x2="145.18" y2="241.32" stroke="#26437c" stroke-width="1.3"/>
<line x1="60.20" y1="192.80" x2="85.80" y2="192.80" stroke="#1a1718" stroke-width="1.3"/>
<circle cx="68.7" cy="187.9" r="1.15" fill="#1a1718"/>
<circle cx="72.9" cy="187.9" r="1.15" fill="#1a1718"/>
<circle cx="77.2" cy="187.9" r="1.15" fill="#1a1718"/>
<line x1="118.30" y1="231.00" x2="145.20" y2="231.00" stroke="#1a1718" stroke-width="1.3"/>
<text x="131.50" y="227.80" font-size="7.5" text-anchor="middle" textLength="10.50" lengthAdjust="spacingAndGlyphs" fill="#231f20" >NS</text>
<text x="71.70" y="276.60" font-size="8.3" text-anchor="middle" textLength="24.20" lengthAdjust="spacingAndGlyphs" fill="#231f20" >Def-XII</text>
<text x="130.30" y="276.60" font-size="8.3" text-anchor="middle" textLength="22.20" lengthAdjust="spacingAndGlyphs" fill="#231f20" >Def-XI</text>
<rect x="111.7" y="181.5" width="8.3" height="7.7" fill="#ad0a33"/>
<rect x="111.7" y="191.5" width="8.3" height="7.7" fill="#2b4d8c"/>
<text x="122.70" y="188.30" font-size="8" text-anchor="start" textLength="33.80" lengthAdjust="spacingAndGlyphs" fill="#231f20" >TF + DNA</text>
<text x="122.70" y="198.30" font-size="8" text-anchor="start" textLength="38.10" lengthAdjust="spacingAndGlyphs" fill="#231f20" >TF no DNA</text>
<text x="185.00" y="163.70" font-size="11" text-anchor="start" font-weight="bold" fill="#000" >E</text>
<line x1="217.80" y1="181.70" x2="217.80" y2="265.60" stroke="#1a1718" stroke-width="1.45"/>
<line x1="214.80" y1="263.00" x2="217.80" y2="263.00" stroke="#1a1718" stroke-width="1.45"/>
<text x="211.80" y="265.55" font-size="7.9" text-anchor="end" textLength="15.60" lengthAdjust="spacingAndGlyphs" fill="#231f20" >0.00</text>
<line x1="214.80" y1="247.30" x2="217.80" y2="247.30" stroke="#1a1718" stroke-width="1.45"/>
<text x="211.80" y="249.85" font-size="7.9" text-anchor="end" textLength="15.60" lengthAdjust="spacingAndGlyphs" fill="#231f20" >0.01</text>
<line x1="214.80" y1="231.60" x2="217.80" y2="231.60" stroke="#1a1718" stroke-width="1.45"/>
<text x="211.80" y="234.15" font-size="7.9" text-anchor="end" textLength="15.60" lengthAdjust="spacingAndGlyphs" fill="#231f20" >0.02</text>
<line x1="214.80" y1="215.90" x2="217.80" y2="215.90" stroke="#1a1718" stroke-width="1.45"/>
<text x="211.80" y="218.45" font-size="7.9" text-anchor="end" textLength="15.60" lengthAdjust="spacingAndGlyphs" fill="#231f20" >0.03</text>
<line x1="214.80" y1="200.20" x2="217.80" y2="200.20" stroke="#1a1718" stroke-width="1.45"/>
<text x="211.80" y="202.75" font-size="7.9" text-anchor="end" textLength="15.60" lengthAdjust="spacingAndGlyphs" fill="#231f20" >0.04</text>
<line x1="214.80" y1="184.50" x2="217.80" y2="184.50" stroke="#1a1718" stroke-width="1.45"/>
<text x="211.80" y="187.05" font-size="7.9" text-anchor="end" textLength="15.60" lengthAdjust="spacingAndGlyphs" fill="#231f20" >0.05</text>
<line x1="214.80" y1="263.00" x2="336.70" y2="263.00" stroke="#1a1718" stroke-width="1.45"/>
<line x1="232.60" y1="263.00" x2="232.60" y2="266.20" stroke="#1a1718" stroke-width="1.45"/>
<line x1="262.20" y1="263.00" x2="262.20" y2="266.20" stroke="#1a1718" stroke-width="1.45"/>
<line x1="291.60" y1="263.00" x2="291.60" y2="266.20" stroke="#1a1718" stroke-width="1.45"/>
<line x1="321.30" y1="263.00" x2="321.30" y2="266.20" stroke="#1a1718" stroke-width="1.45"/>
<text transform="translate(189.9,222.0) rotate(-90)" font-size="8.6" text-anchor="middle" textLength="95.0" lengthAdjust="spacingAndGlyphs" fill="#231f20">FXIa activity (&#916;OD2min)</text>
<rect x="222.70" y="258.29" width="20.50" height="4.71" fill="#3d7a5c"/>
<line x1="232.95" y1="258.29" x2="232.95" y2="256.25" stroke="#3d7a5c" stroke-width="1.2"/>
<line x1="227.95" y1="256.25" x2="237.95" y2="256.25" stroke="#3d7a5c" stroke-width="1.2"/>
<rect x="251.90" y="257.19" width="20.80" height="5.81" fill="#4b2a6e"/>
<line x1="262.30" y1="257.19" x2="262.30" y2="252.79" stroke="#4b2a6e" stroke-width="1.2"/>
<line x1="257.30" y1="252.79" x2="267.30" y2="252.79" stroke="#4b2a6e" stroke-width="1.2"/>
<rect x="281.40" y="253.74" width="20.40" height="9.26" fill="#ad0a33"/>
<line x1="291.60" y1="253.74" x2="291.60" y2="244.47" stroke="#ad0a33" stroke-width="1.2"/>
<line x1="286.60" y1="244.47" x2="296.60" y2="244.47" stroke="#ad0a33" stroke-width="1.2"/>
<rect x="310.90" y="222.49" width="21.20" height="40.51" fill="#8883be"/>
<line x1="321.50" y1="222.49" x2="321.50" y2="199.73" stroke="#8883be" stroke-width="1.2"/>
<line x1="316.25" y1="199.73" x2="326.75" y2="199.73" stroke="#8883be" stroke-width="1.2"/>
<line x1="265.30" y1="189.50" x2="314.50" y2="189.50" stroke="#1a1718" stroke-width="1.3"/>
<circle cx="287.6" cy="184.6" r="1.05" fill="#1a1718"/>
<circle cx="292.0" cy="184.6" r="1.05" fill="#1a1718"/>
<line x1="298.30" y1="198.00" x2="322.00" y2="198.00" stroke="#1a1718" stroke-width="1.3"/>
<circle cx="308.2" cy="193.2" r="1.05" fill="#1a1718"/>
<circle cx="312.5" cy="193.2" r="1.05" fill="#1a1718"/>
<text transform="translate(236.10,274.20) rotate(-45)" font-size="8" text-anchor="end" textLength="21.5" lengthAdjust="spacingAndGlyphs" fill="#231f20">Buffer</text>
<text transform="translate(265.70,274.20) rotate(-45)" font-size="8" text-anchor="end" textLength="32.0" lengthAdjust="spacingAndGlyphs" fill="#231f20">IIa alone</text>
<text transform="translate(295.10,274.20) rotate(-45)" font-size="8" text-anchor="end" textLength="43.5" lengthAdjust="spacingAndGlyphs" fill="#231f20">pDNA alone</text>
<text transform="translate(324.80,274.20) rotate(-45)" font-size="8" text-anchor="end" textLength="35.0" lengthAdjust="spacingAndGlyphs" fill="#231f20">pDNA+IIa</text>
<text x="358.20" y="163.70" font-size="11" text-anchor="start" font-weight="bold" fill="#000" >F</text>
<line x1="389.30" y1="182.10" x2="389.30" y2="265.50" stroke="#1a1718" stroke-width="1.45"/>
<line x1="386.30" y1="262.90" x2="389.30" y2="262.90" stroke="#1a1718" stroke-width="1.45"/>
<text x="382.50" y="265.45" font-size="7.2" text-anchor="end" fill="#231f20" >0</text>
<line x1="386.30" y1="247.30" x2="389.30" y2="247.30" stroke="#1a1718" stroke-width="1.45"/>
<text x="382.50" y="249.85" font-size="7.2" text-anchor="end" fill="#231f20" >20</text>
<line x1="386.30" y1="231.70" x2="389.30" y2="231.70" stroke="#1a1718" stroke-width="1.45"/>
<text x="382.50" y="234.25" font-size="7.2" text-anchor="end" fill="#231f20" >40</text>
<line x1="386.30" y1="216.10" x2="389.30" y2="216.10" stroke="#1a1718" stroke-width="1.45"/>
<text x="382.50" y="218.65" font-size="7.2" text-anchor="end" fill="#231f20" >60</text>
<line x1="386.30" y1="200.50" x2="389.30" y2="200.50" stroke="#1a1718" stroke-width="1.45"/>
<text x="382.50" y="203.05" font-size="7.2" text-anchor="end" fill="#231f20" >80</text>
<line x1="386.30" y1="184.90" x2="389.30" y2="184.90" stroke="#1a1718" stroke-width="1.45"/>
<text x="382.50" y="187.45" font-size="7.2" text-anchor="end" fill="#231f20" >100</text>
<line x1="386.30" y1="262.90" x2="511.00" y2="262.90" stroke="#1a1718" stroke-width="1.45"/>
<line x1="389.30" y1="262.90" x2="389.30" y2="266.10" stroke="#1a1718" stroke-width="1.45"/>
<text x="389.30" y="276.10" font-size="7.2" text-anchor="middle" fill="#231f20" >0</text>
<line x1="428.70" y1="262.90" x2="428.70" y2="266.10" stroke="#1a1718" stroke-width="1.45"/>
<text x="428.70" y="276.10" font-size="7.2" text-anchor="middle" fill="#231f20" >20</text>
<line x1="468.10" y1="262.90" x2="468.10" y2="266.10" stroke="#1a1718" stroke-width="1.45"/>
<text x="468.10" y="276.10" font-size="7.2" text-anchor="middle" fill="#231f20" >40</text>
<line x1="507.50" y1="262.90" x2="507.50" y2="266.10" stroke="#1a1718" stroke-width="1.45"/>
<text x="507.50" y="276.10" font-size="7.2" text-anchor="middle" fill="#231f20" >60</text>
<text transform="translate(364.00,221.90) rotate(-90)" x="0" y="0" font-size="9.2" text-anchor="middle" textLength="30.5" lengthAdjust="spacingAndGlyphs" fill="#231f20">IIa (nM)</text>
<text x="450.60" y="289.20" font-size="9.5" text-anchor="middle" textLength="40.80" lengthAdjust="spacingAndGlyphs" fill="#231f20" >Time (min)</text>
<path d="M389.30,262.89 L390.09,262.87 L390.88,262.84 L391.66,262.81 L392.45,262.78 L393.24,262.74 L394.03,262.71 L394.82,262.68 L395.60,262.65 L396.39,262.62 L397.18,262.59 L397.97,262.56 L398.76,262.50 L399.54,262.41 L400.33,262.28 L401.12,262.12 L401.91,261.96 L402.70,261.81 L403.48,261.65 L404.27,261.50 L405.06,261.05 L405.85,260.30 L406.64,259.26 L407.42,257.93 L408.21,255.45 L409.00,251.81 L409.79,247.31 L410.58,242.79 L411.36,238.63 L412.15,234.95 L412.94,231.67 L413.73,228.55 L414.52,225.82 L415.30,223.63 L416.09,222.22 L416.88,221.36 L417.67,221.09 L418.46,221.49 L419.24,222.48 L420.03,223.55 L420.82,224.71 L421.61,226.42 L422.40,228.75 L423.18,231.21 L423.97,233.49 L424.76,235.53 L425.55,237.13 L426.34,238.75 L427.12,240.69 L427.91,242.08 L428.70,243.02 L429.49,244.06 L430.28,244.71 L431.06,245.22 L431.85,245.97 L432.64,247.03 L433.43,248.51 L434.22,250.02 L435.00,250.79 L435.79,250.21 L436.58,250.32 L437.37,251.56 L438.16,252.32 L438.94,253.72 L439.73,254.75 L440.52,254.17 L441.31,253.97 L442.10,254.57 L442.88,254.36 L443.67,253.90 L444.46,254.38 L445.25,255.15 L446.04,255.41 L446.82,255.37 L447.61,255.67 L448.40,256.40 L449.19,257.76 L449.98,258.95 L450.76,258.44 L451.55,256.92 L452.34,255.47 L453.13,255.18 L453.92,256.57 L454.70,257.90 L455.49,257.78 L456.28,257.32 L457.07,258.15 L457.86,258.67 L458.64,258.42 L459.43,257.76 L460.22,256.63 L461.01,256.93 L461.80,257.55 L462.58,257.51 L463.37,257.62 L464.16,257.18 L464.95,257.53 L465.74,258.84 L466.52,259.05 L467.31,259.03 L468.10,259.08 L468.89,258.54 L469.68,258.63 L470.46,259.16 L471.25,259.20 L472.04,258.66 L472.83,257.97 L473.62,257.63 L474.40,257.32 L475.19,257.30 L475.98,258.09 L476.77,258.70 L477.56,258.80 L478.34,259.02 L479.13,258.86 L479.92,258.72 L480.71,258.79 L481.50,258.99 L482.28,259.85 L483.07,260.25 L483.86,258.88 L484.65,258.09 L485.44,259.02 L486.22,258.83 L487.01,257.93 L487.80,258.00 L488.59,258.51 L489.38,258.04 L490.16,256.98 L490.95,257.09 L491.74,257.42 L492.53,258.00 L493.32,258.91 L494.10,258.40 L494.89,257.67 L495.68,258.20 L496.47,259.09 L497.26,259.25 L498.04,258.77 L498.83,258.13 L499.62,258.35 L500.41,259.33 L501.20,259.42 L501.98,258.94 L502.77,258.45 L503.56,258.05 L504.35,257.80 L505.14,257.93 L505.92,258.62" fill="none" stroke="#6cb15a" stroke-width="1.7" stroke-linejoin="round"/>
<path d="M389.30,262.89 L390.09,262.87 L390.88,262.84 L391.66,262.81 L392.45,262.78 L393.24,262.74 L394.03,262.71 L394.82,262.68 L395.60,262.65 L396.39,262.62 L397.18,262.59 L397.97,262.56 L398.76,262.51 L399.54,262.45 L400.33,262.35 L401.12,262.25 L401.91,262.15 L402.70,262.04 L403.48,261.94 L404.27,261.83 L405.06,261.58 L405.85,261.18 L406.64,260.64 L407.42,260.09 L408.21,259.55 L409.00,258.47 L409.79,256.87 L410.58,254.74 L411.36,252.60 L412.15,250.50 L412.94,248.43 L413.73,246.25 L414.52,244.07 L415.30,241.93 L416.09,239.68 L416.88,237.50 L417.67,235.80 L418.46,234.40 L419.24,233.44 L420.03,232.82 L420.82,232.76 L421.61,233.45 L422.40,234.25 L423.18,235.14 L423.97,236.55 L424.76,237.92 L425.55,238.86 L426.34,239.88 L427.12,241.06 L427.91,241.84 L428.70,242.83 L429.49,244.06 L430.28,244.90 L431.06,245.67 L431.85,246.23 L432.64,246.16 L433.43,246.21 L434.22,247.11 L435.00,248.30 L435.79,248.98 L436.58,249.39 L437.37,249.84 L438.16,250.53 L438.94,252.01 L439.73,253.37 L440.52,253.47 L441.31,253.65 L442.10,254.53 L442.88,255.42 L443.67,256.22 L444.46,256.17 L445.25,255.25 L446.04,255.17 L446.82,256.45 L447.61,257.27 L448.40,257.47 L449.19,257.46 L449.98,257.16 L450.76,256.71 L451.55,256.74 L452.34,257.42 L453.13,257.53 L453.92,257.16 L454.70,257.01 L455.49,257.50 L456.28,258.02 L457.07,257.66 L457.86,258.27 L458.64,259.02 L459.43,258.91 L460.22,258.78 L461.01,258.41 L461.80,258.32 L462.58,258.61 L463.37,258.97 L464.16,258.83 L464.95,258.52 L465.74,258.08 L466.52,257.40 L467.31,257.63 L468.10,258.87 L468.89,259.61 L469.68,258.58 L470.46,257.94 L471.25,258.75 L472.04,259.97 L472.83,261.07 L473.62,261.11 L474.40,260.39 L475.19,259.34 L475.98,258.79 L476.77,258.96 L477.56,258.69 L478.34,258.59 L479.13,259.22 L479.92,258.98 L480.71,258.43 L481.50,258.69 L482.28,259.14 L483.07,259.44 L483.86,259.02 L484.65,259.08 L485.44,259.94 L486.22,259.76 L487.01,259.26 L487.80,258.45 L488.59,257.80 L489.38,258.03 L490.16,257.61 L490.95,257.58 L491.74,258.42 L492.53,258.72 L493.32,258.99 L494.10,259.15 L494.89,258.94 L495.68,259.07 L496.47,259.83 L497.26,260.69 L498.04,260.07 L498.83,259.23 L499.62,259.40 L500.41,259.26 L501.20,258.83 L501.98,258.00 L502.77,257.68 L503.56,258.41 L504.35,258.90 L505.14,258.96 L505.92,258.99" fill="none" stroke="#d9a53c" stroke-width="1.7" stroke-linejoin="round"/>
<path d="M389.30,262.89 L390.09,262.87 L390.88,262.84 L391.66,262.81 L392.45,262.78 L393.24,262.74 L394.03,262.71 L394.82,262.68 L395.60,262.65 L396.39,262.62 L397.18,262.59 L397.97,262.56 L398.76,262.51 L399.54,262.45 L400.33,262.35 L401.12,262.25 L401.91,262.15 L402.70,262.04 L403.48,261.94 L404.27,261.83 L405.06,261.66 L405.85,261.42 L406.64,261.11 L407.42,260.79 L408.21,260.48 L409.00,260.17 L409.79,259.50 L410.58,258.34 L411.36,256.72 L412.15,255.10 L412.94,253.43 L413.73,251.24 L414.52,248.44 L415.30,244.96 L416.09,241.37 L416.88,237.66 L417.67,233.85 L418.46,230.32 L419.24,227.75 L420.03,226.09 L420.82,224.91 L421.61,224.54 L422.40,225.07 L423.18,226.03 L423.97,226.92 L424.76,228.08 L425.55,229.46 L426.34,230.38 L427.12,231.34 L427.91,232.83 L428.70,233.65 L429.49,234.24 L430.28,235.86 L431.06,237.34 L431.85,238.16 L432.64,239.05 L433.43,240.49 L434.22,242.28 L435.00,243.30 L435.79,244.04 L436.58,245.32 L437.37,246.39 L438.16,246.70 L438.94,247.09 L439.73,248.35 L440.52,249.48 L441.31,250.33 L442.10,251.51 L442.88,252.35 L443.67,252.25 L444.46,252.20 L445.25,253.30 L446.04,254.27 L446.82,254.22 L447.61,254.18 L448.40,255.24 L449.19,256.62 L449.98,256.04 L450.76,254.69 L451.55,255.03 L452.34,256.54 L453.13,257.72 L453.92,257.99 L454.70,257.74 L455.49,257.44 L456.28,257.37 L457.07,257.79 L457.86,258.19 L458.64,258.11 L459.43,258.09 L460.22,258.60 L461.01,258.94 L461.80,258.62 L462.58,258.44 L463.37,258.67 L464.16,258.57 L464.95,257.88 L465.74,258.43 L466.52,259.23 L467.31,258.30 L468.10,257.71 L468.89,257.74 L469.68,257.50 L470.46,257.99 L471.25,258.33 L472.04,257.93 L472.83,258.38 L473.62,258.51 L474.40,258.49 L475.19,258.74 L475.98,258.21 L476.77,258.51 L477.56,258.15 L478.34,257.51 L479.13,259.26 L479.92,260.03 L480.71,259.15 L481.50,259.35 L482.28,259.54 L483.07,258.87 L483.86,258.48 L484.65,258.42 L485.44,258.73 L486.22,258.85 L487.01,258.75 L487.80,259.32 L488.59,258.55 L489.38,257.59 L490.16,258.09 L490.95,258.55 L491.74,259.54 L492.53,260.61 L493.32,260.61 L494.10,259.16 L494.89,257.71 L495.68,257.75 L496.47,257.17 L497.26,256.43 L498.04,257.73 L498.83,258.86 L499.62,258.44 L500.41,258.09 L501.20,258.41 L501.98,258.75 L502.77,259.02 L503.56,258.57 L504.35,258.11 L505.14,258.66 L505.92,258.80" fill="none" stroke="#b8173f" stroke-width="1.7" stroke-linejoin="round"/>
<path d="M389.30,262.89 L390.09,262.87 L390.88,262.84 L391.66,262.81 L392.45,262.78 L393.24,262.74 L394.03,262.71 L394.82,262.68 L395.60,262.65 L396.39,262.62 L397.18,262.59 L397.97,262.56 L398.76,262.51 L399.54,262.45 L400.33,262.35 L401.12,262.25 L401.91,262.15 L402.70,262.04 L403.48,261.94 L404.27,261.83 L405.06,261.70 L405.85,261.54 L406.64,261.36 L407.42,261.17 L408.21,260.98 L409.00,260.79 L409.79,260.34 L410.58,259.59 L411.36,258.44 L412.15,257.09 L412.94,255.83 L413.73,254.21 L414.52,250.87 L415.30,245.84 L416.09,239.50 L416.88,234.27 L417.67,230.23 L418.46,227.37 L419.24,224.69 L420.03,222.33 L420.82,220.93 L421.61,220.16 L422.40,219.21 L423.18,219.19 L423.97,219.96 L424.76,221.06 L425.55,222.04 L426.34,223.89 L427.12,226.07 L427.91,227.55 L428.70,229.01 L429.49,230.75 L430.28,232.56 L431.06,234.88 L431.85,237.34 L432.64,238.63 L433.43,239.29 L434.22,240.48 L435.00,242.09 L435.79,244.28 L436.58,246.47 L437.37,246.71 L438.16,247.55 L438.94,249.74 L439.73,249.34 L440.52,248.82 L441.31,250.64 L442.10,251.83 L442.88,252.27 L443.67,253.00 L444.46,254.27 L445.25,255.94 L446.04,255.10 L446.82,252.87 L447.61,252.51 L448.40,253.31 L449.19,254.63 L449.98,256.01 L450.76,255.88 L451.55,255.16 L452.34,255.24 L453.13,255.13 L453.92,255.14 L454.70,256.03 L455.49,256.77 L456.28,256.66 L457.07,256.22 L457.86,256.37 L458.64,257.61 L459.43,258.19 L460.22,257.30 L461.01,257.12 L461.80,257.57 L462.58,257.56 L463.37,258.26 L464.16,258.57 L464.95,257.01 L465.74,256.09 L466.52,255.92 L467.31,256.20 L468.10,257.35 L468.89,257.17 L469.68,256.59 L470.46,256.96 L471.25,257.37 L472.04,257.42 L472.83,257.34 L473.62,257.73 L474.40,256.99 L475.19,255.30 L475.98,255.60 L476.77,257.40 L477.56,258.50 L478.34,257.70 L479.13,256.40 L479.92,256.50 L480.71,257.18 L481.50,258.00 L482.28,258.16 L483.07,257.20 L483.86,255.83 L484.65,255.82 L485.44,257.91 L486.22,259.37 L487.01,258.57 L487.80,256.75 L488.59,257.00 L489.38,258.60 L490.16,258.51 L490.95,257.62 L491.74,257.59 L492.53,258.94 L493.32,260.11 L494.10,258.69 L494.89,256.29 L495.68,256.20 L496.47,257.26 L497.26,257.88 L498.04,258.21 L498.83,257.87 L499.62,257.34 L500.41,257.17 L501.20,257.86 L501.98,258.84 L502.77,258.27 L503.56,257.63 L504.35,258.11 L505.14,257.84 L505.92,257.30" fill="none" stroke="#1f2f6e" stroke-width="1.7" stroke-linejoin="round"/>
<line x1="433.10" y1="185.40" x2="441.20" y2="185.40" stroke="#1f2f6e" stroke-width="1.6"/>
<text x="444.60" y="187.80" font-size="8" text-anchor="start" textLength="8.10" lengthAdjust="spacingAndGlyphs" fill="#231f20" >TF</text>
<line x1="433.10" y1="195.67" x2="441.20" y2="195.67" stroke="#6cb15a" stroke-width="1.6"/>
<text x="444.60" y="198.07" font-size="8" text-anchor="start" textLength="55.20" lengthAdjust="spacingAndGlyphs" fill="#231f20" >TF+Unstim PMN</text>
<line x1="433.10" y1="205.94" x2="441.20" y2="205.94" stroke="#b8173f" stroke-width="1.6"/>
<text x="444.60" y="208.34" font-size="8" text-anchor="start" textLength="50.40" lengthAdjust="spacingAndGlyphs" fill="#231f20" >TF+PMN+PMA</text>
<line x1="433.10" y1="216.21" x2="441.20" y2="216.21" stroke="#d9a53c" stroke-width="1.6"/>
<text x="444.60" y="218.61" font-size="8" text-anchor="start" textLength="60.00" lengthAdjust="spacingAndGlyphs" fill="#231f20" >TF+PMN+A23187</text>
<rect x="0" y="1" width="520" height="1" fill="#8a8a8a"/>
<rect x="1" y="0" width="1" height="314" fill="#8a8a8a"/>
<rect x="517" y="0" width="1" height="314" fill="#c8c8c8"/>
<rect x="0" y="312" width="520" height="1" fill="#808080"/>
<rect x="0" y="0" width="520" height="1" fill="#000"/>
<rect x="0" y="0" width="1" height="314" fill="#000"/>
<rect x="518" y="0" width="2" height="314" fill="#000"/>
<rect x="0" y="313" width="520" height="1" fill="#000"/>
</svg>
</body></html>
